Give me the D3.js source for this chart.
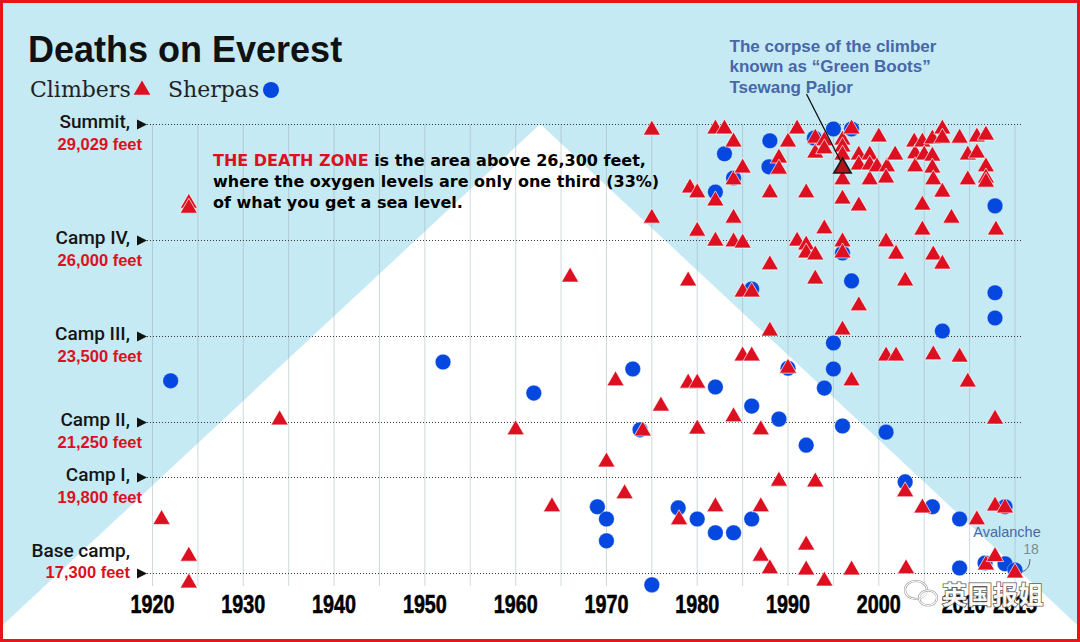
<!DOCTYPE html>
<html><head><meta charset="utf-8">
<script src="https://cdn.jsdelivr.net/npm/d3@7"></script>
<style>html,body{margin:0;padding:0;background:#fff;} svg{display:block}</style>
</head><body>
<svg id="chart" width="1080" height="642"></svg>
<script>
// ---------------- data ----------------
const campNames = ["Summit,", "Camp IV,", "Camp III,", "Camp II,", "Camp I,", "Base camp,"];
const campFeet = [29029, 26000, 23500, 21250, 19800, 17300];
const campLabels = ["29,029 feet", "26,000 feet", "23,500 feet", "21,250 feet", "19,800 feet", "17,300 feet"];
const tickYears = [1920, 1930, 1940, 1950, 1960, 1970, 1980, 1990, 2000, 2010, 2015];
const gridYears = [1920,1925,1930,1935,1940,1945,1950,1955,1960,1965,1970,1975,1980,1985,1990,1995,2000,2005,2010,2015];

// [year, altitude in feet]
const climbers = [
[1921,18700],[1924,26960],[1924,26830],[1924,17740],[1924,17040],
[1934,21300],[1960,21040],[1964,19030],[1966,25030],[1970,20200],[1971,22320],[1972,19370],[1974,21010],
[1975,28870],[1975,26570],[1976,21660],[1978,18690],
[1979,24930],[1979.2,27360],[1979,22260],
[1980,27230],[1980,26230],[1980,22260],[1980,21060],
[1982,28900],[1982,27020],[1982,25970],[1982,19030],
[1983,28900],
[1984,28560],[1984,27570],[1984,26570],[1984,25950],[1984,21380],
[1985,27880],[1985,25920],[1985,24640],[1985,22970],
[1986,24640],[1986,22970],
[1987,21040],[1987,19030],[1987,17740],
[1988,25350],[1988,27230],[1988,23620],[1988,17410],
[1989,28140],[1989,27850],[1989,19700],
[1990,28560],[1990,22650],
[1991,28900],[1991,25970],
[1992,27230],[1992,25870],[1992,25660],[1992,18030],[1992,17380],
[1993,28660],[1993,28270],[1993,25610],[1993,24980],[1993,19680],
[1994,28590],[1994,28380],[1994,26290],[1994,17090],
[1996,28610],[1996,28430],[1996,28220],[1996,27570],[1996,27070],[1996,25950],[1996,25660],[1996,23650],
[1997,28900],[1997,22320],[1997,17380],
[1997.8,28220],[1997.8,27960],[1997.8,26890],[1997.8,24280],
[1999,28220],[1999,27960],[1999,27570],
[2000,28690],[1999.8,27910],
[2000.9,27910],[2000.8,27620],[2000.8,25950],[2000.8,22970],
[2001.8,28220],[2001.9,25630],[2001.9,22970],
[2002.9,24930],[2002.9,19420],[2003,17410],
[2003.9,28560],[2004,28250],[2004,27910],
[2004.8,28560],[2005,28220],[2004.8,26910],[2004.8,26260],[2004.8,19000],
[2005.9,28640],[2005.9,28190],[2005.9,27880],[2006,27570],[2006,25610],[2006,23000],
[2007,28900],[2007,28660],[2007,27250],[2007,25370],
[2008,26570],
[2008.9,28660],[2008.9,22940],
[2009.8,28220],[2009.8,27570],[2009.8,22290],
[2010.8,28690],[2010.8,28270],[2010.8,18690],
[2011.8,28740],[2011.8,27910],[2011.8,27620],[2011.8,27510],[2011.8,17510],
[2012.8,19050],[2012.8,17730],
[2012.9,26260],[2012.8,21320],
[2013.9,19000],
[2015,17300]
];

const sherpas = [
[1922,22320],[1952,22810],[1962,22000],[1969,19030],[1970,18710],[1970,18140],[1972.9,22630],[1973.7,21040],
[1975,16990],[1977.9,19000],[1980,18710],[1982,22160],[1982,18350],[1983,28250],[1982,27250],[1984,18350],
[1984,27620],[1986,24720],[1986,21660],[1986,18710],[1988,28590],[1987.9,27910],[1989,21320],[1990,22650],
[1992,20640],[1992.9,28660],[1994,22130],[1995,23310],[1995,22630],[1995,28900],[1996,21140],[1996,25660],
[1997,28900],[1997,24930],[2000.8,20980],[2002.9,19680],[2005.9,19030],[2007,23620],[2008.9,18710],
[2008.9,17430],[2011.7,17560],[2012.8,26890],[2012.8,24620],[2012.8,23960],[2013.9,19030],[2013.9,17540],[2015,17380]
];

const greenBoots = [1996, 27880];
const avalanche = [2015, 17300];
const mountain = [[1899.4, 15029], [1962.7, 29029], [2026.0, 15029]];

// ---------------- scales ----------------
const W = 1080, H = 642;
const x = d3.scaleLinear().domain([1920, 2015]).range([152.5, 1015]);
const y = d3.scaleLinear().domain([17300, 29029]).range([573, 124]);

const svg = d3.select("#chart");
const RED = "#dc1020", BLUE = "#0548e0", ANN = "#4767a8";

// background
svg.append("rect").attr("width", W).attr("height", H).attr("fill", "#c6eaf3");
svg.append("path")
  .attr("d", d3.line().x(d => x(d[0])).y(d => y(d[1]))(mountain) + "Z")
  .attr("fill", "#ffffff");

// vertical grid
svg.append("g").selectAll("line").data(gridYears).join("line")
  .attr("x1", d => x(d)).attr("x2", d => x(d))
  .attr("y1", y(29029)).attr("y2", 586)
  .attr("stroke", "rgb(140,160,170)").attr("stroke-opacity", 0.4).attr("stroke-width", 1);

// horizontal dotted lines
svg.append("g").selectAll("line").data(campFeet).join("line")
  .attr("x1", 147).attr("x2", 1023)
  .attr("y1", d => Math.round(y(d)) + 0.5).attr("y2", d => Math.round(y(d)) + 0.5)
  .attr("stroke", "#3a3a3a").attr("stroke-width", 1).attr("stroke-dasharray", "1,2");

// camp labels
const camps = svg.append("g").selectAll("g").data(campFeet).join("g");
camps.append("path")
  .attr("d", d => { const yy = Math.round(y(d)) + 0.5; return `M137,${yy-5}L147,${yy}L137,${yy+5}Z`; })
  .attr("fill", "#111");
camps.append("text")
  .attr("x", 130)
  .attr("y", (d, i) => i === 5 ? y(d) - 16 : y(d) + 4)
  .attr("text-anchor", "end")
  .attr("font-family", "Roboto, 'Liberation Sans', sans-serif")
  .attr("font-weight", 500).attr("font-size", 19).attr("fill", "#151515")
  .text((d, i) => campNames[i]);
camps.append("text")
  .attr("x", (d, i) => i === 5 ? 130 : 142)
  .attr("y", (d, i) => i === 5 ? y(d) + 5 : y(d) + 26)
  .attr("text-anchor", "end")
  .attr("font-family", "'Liberation Sans', Arial, sans-serif")
  .attr("font-weight", "bold").attr("font-size", 16.5).attr("fill", RED)
  .text((d, i) => campLabels[i]);

// x tick labels (condensed bold)
svg.append("g").selectAll("text").data(tickYears).join("text")
  .attr("transform", d => `translate(${x(d) + (d === 2010 ? -6 : 0)},613) scale(0.76,1)`)
  .attr("text-anchor", "middle")
  .attr("font-family", "'Liberation Sans', Arial, sans-serif")
  .attr("font-weight", "bold").attr("font-size", 26).attr("fill", "#000")
  .attr("stroke", "#000").attr("stroke-width", 0.6)
  .text(d => d);

// title + legend
svg.append("text").attr("x", 28).attr("y", 62)
  .attr("font-family", "'Liberation Sans', Arial, sans-serif").attr("font-weight", "bold")
  .attr("font-size", 36).attr("fill", "#111").text("Deaths on Everest");
svg.append("text").attr("x", 30).attr("y", 97)
  .attr("font-family", "'DejaVu Serif', serif").attr("font-size", 22).attr("fill", "#222").text("Climbers");
svg.append("path").attr("d", d3.symbol(d3.symbolTriangle, 120)())
  .attr("transform", "translate(142,90)").attr("fill", RED);
svg.append("text").attr("x", 168).attr("y", 97)
  .attr("font-family", "'DejaVu Serif', serif").attr("font-size", 22).attr("fill", "#222").text("Sherpas");
svg.append("circle").attr("cx", 271).attr("cy", 90).attr("r", 8).attr("fill", BLUE);

// death zone text
const dz = svg.append("text").attr("font-family", "'DejaVu Sans', sans-serif")
  .attr("font-weight", "bold").attr("font-size", 16).attr("fill", "#000");
const l1 = dz.append("tspan").attr("x", 213).attr("y", 166);
l1.append("tspan").attr("fill", RED).text("THE DEATH ZONE");
l1.append("tspan").text(" is the area above 26,300 feet,");
dz.append("tspan").attr("x", 213).attr("y", 187).text("where the oxygen levels are only one third (33%)");
dz.append("tspan").attr("x", 213).attr("y", 208).text("of what you get a sea level.");

// marks
const triSym = d3.symbol(d3.symbolTriangle, 130);
svg.append("g").selectAll("circle").data(sherpas).join("circle")
  .attr("cx", d => x(d[0])).attr("cy", d => y(d[1])).attr("r", 7.8)
  .attr("fill", BLUE).attr("stroke", "rgba(255,255,255,0.5)").attr("stroke-width", 0.6);
svg.append("g").selectAll("path").data(climbers).join("path")
  .attr("d", triSym)
  .attr("transform", d => `translate(${x(d[0])},${y(d[1])})`)
  .attr("fill", RED).attr("stroke", "rgba(255,255,255,0.75)").attr("stroke-width", 0.9);

// Green Boots
const gx = x(greenBoots[0]), gy = y(greenBoots[1]);
svg.append("path").attr("d", triSym)
  .attr("transform", `translate(${gx},${gy})`)
  .attr("fill", "#b3121c").attr("stroke", "#1a1a1a").attr("stroke-width", 1.6);
svg.append("line").attr("x1", gx - 36).attr("y1", gy - 74).attr("x2", gx - 2).attr("y2", gy - 7)
  .attr("stroke", "#111").attr("stroke-width", 1.3);
const gb = svg.append("text").attr("font-family", "'Liberation Sans', Arial, sans-serif")
  .attr("font-weight", "bold").attr("font-size", 17).attr("fill", ANN);
gb.append("tspan").attr("x", gx - 113).attr("y", 52).text("The corpse of the climber");
gb.append("tspan").attr("x", gx - 113).attr("y", 72).text("known as \u201CGreen Boots\u201D");
gb.append("tspan").attr("x", gx - 113).attr("y", 93).text("Tsewang Paljor");

// Avalanche
const ax = x(avalanche[0]), ay = y(avalanche[1]);
svg.append("text").attr("x", ax - 8).attr("y", ay - 36).attr("text-anchor", "middle")
  .attr("font-family", "'Liberation Sans', Arial, sans-serif").attr("font-size", 14.5).attr("fill", ANN)
  .text("Avalanche");
svg.append("text").attr("x", ax + 16).attr("y", ay - 19).attr("text-anchor", "middle")
  .attr("font-family", "'Liberation Sans', Arial, sans-serif").attr("font-size", 14).attr("fill", "#7a8c98")
  .text("18");
svg.append("path").attr("d", `M${ax+15},${ay-14} Q${ax+15},${ay-3} ${ax+6},${ay-1}`)
  .attr("fill", "none").attr("stroke", "#556070").attr("stroke-width", 1);

// watermark
const wm = svg.append("g").attr("opacity", 0.95);
wm.append("ellipse").attr("cx", 916).attr("cy", 590).attr("rx", 11).attr("ry", 9)
  .attr("fill", "none").attr("stroke", "#888").attr("stroke-width", 2.2);
wm.append("ellipse").attr("cx", 916).attr("cy", 590).attr("rx", 11).attr("ry", 9)
  .attr("fill", "none").attr("stroke", "#fff").attr("stroke-width", 1.2);
wm.append("ellipse").attr("cx", 928).attr("cy", 598).attr("rx", 9).attr("ry", 7.5)
  .attr("fill", "rgba(255,255,255,0.6)").attr("stroke", "#888").attr("stroke-width", 2.2);
wm.append("ellipse").attr("cx", 928).attr("cy", 598).attr("rx", 9).attr("ry", 7.5)
  .attr("fill", "none").attr("stroke", "#fff").attr("stroke-width", 1.2);
wm.append("text").attr("x", 942).attr("y", 604)
  .attr("font-family", "'Noto Sans CJK SC', sans-serif").attr("font-weight", "bold")
  .attr("font-size", 25).attr("fill", "#fff").attr("stroke", "#555").attr("stroke-width", 1.6)
  .attr("paint-order", "stroke").attr("letter-spacing", 0.5)
  .text("英国报姐");

// red frame
svg.append("rect").attr("x", 1.5).attr("y", 1.5).attr("width", W - 3).attr("height", H - 3)
  .attr("fill", "none").attr("stroke", "#e8141b").attr("stroke-width", 3);
</script>
</body></html>
